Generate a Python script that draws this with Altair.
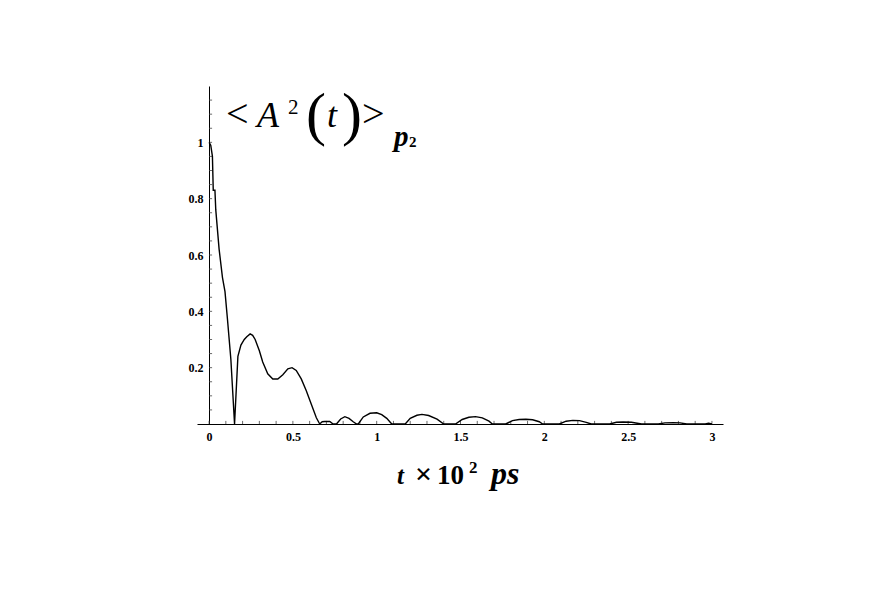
import altair as alt
import pandas as pd

# curve values
t_vals = [0, 0.01, 0.02, 0.025, 0.035, 0.04, 0.06, 0.08, 0.095, 0.11, 0.13, 0.152,
          0.172, 0.19, 0.21, 0.225, 0.245, 0.26, 0.275, 0.30, 0.32, 0.35, 0.38, 0.41,
          0.44, 0.47, 0.495, 0.52, 0.55, 0.58, 0.61, 0.64, 0.66, 0.675, 0.69, 0.72,
          0.74, 0.76, 0.785, 0.81, 0.835, 0.86, 0.88, 0.89, 0.92, 0.96, 1.0, 1.03,
          1.06, 1.09, 1.17, 1.20, 1.24, 1.27, 1.31, 1.36, 1.40, 1.47, 1.51, 1.55,
          1.59, 1.63, 1.67, 1.69, 1.77, 1.81, 1.85, 1.89, 1.93, 1.97, 1.99, 2.09,
          2.13, 2.17, 2.21, 2.25, 2.28, 2.39, 2.43, 2.47, 2.52, 2.58, 2.68, 2.72,
          2.77, 2.81, 2.85, 2.96, 2.98, 3.0]
a_vals = [1.0, 0.99, 0.95, 0.83, 0.83, 0.76, 0.62, 0.52, 0.47, 0.37, 0.23, 0.0,
          0.24, 0.28, 0.30, 0.31, 0.32, 0.315, 0.30, 0.26, 0.22, 0.178, 0.16, 0.16,
          0.175, 0.196, 0.2, 0.19, 0.16, 0.118, 0.07, 0.022, 0.0, 0.008, 0.009, 0.009,
          0.0, 0.0, 0.018, 0.026, 0.02, 0.008, 0.0, 0.0, 0.025, 0.038, 0.04, 0.033,
          0.02, 0.0, 0.0, 0.02, 0.031, 0.034, 0.03, 0.017, 0.0, 0.0, 0.016, 0.024,
          0.026, 0.022, 0.01, 0.0, 0.0, 0.012, 0.016, 0.017, 0.015, 0.008, 0.0, 0.0,
          0.01, 0.013, 0.012, 0.006, 0.0, 0.0, 0.006, 0.007, 0.006, 0.0, 0.0, 0.004,
          0.005, 0.004, 0.0, 0.0, 0.003, 0.0]

x_labels = [0, 0.5, 1, 1.5, 2, 2.5, 3]
y_labels = [0.2, 0.4, 0.6, 0.8, 1.0]
x_minor = [round(i * 0.1, 2) for i in range(0, 31)]
y_minor = [round(i * 0.05, 2) for i in range(1, 24)]

X_DOMAIN = [-0.072, 3.066]
Y_DOMAIN = [0, 1.2]
FONT = "Liberation Serif"

curve = pd.DataFrame({"t": t_vals, "A": a_vals})
xt = pd.DataFrame({"t": x_minor, "lo": [0.0] * len(x_minor), "hi": [0.011] * len(x_minor)})
yt = pd.DataFrame({"v": y_minor, "lo": [0.0] * len(y_minor), "hi": [0.018] * len(y_minor)})

xscale = alt.Scale(domain=X_DOMAIN, nice=False, zero=False)
yscale = alt.Scale(domain=Y_DOMAIN, nice=False)

line = alt.Chart(curve).mark_line(color="black", strokeWidth=1.4, interpolate="linear").encode(
    x=alt.X("t:Q", scale=xscale,
            axis=alt.Axis(values=x_labels, format="~g", title=None, ticks=False,
                          grid=False, domainColor="black", domainWidth=1,
                          labelFont=FONT, labelFontWeight="bold", labelFontSize=12,
                          labelColor="black", labelPadding=7, labelFlush=False)),
    y=alt.Y("A:Q", scale=yscale,
            axis=alt.Axis(values=y_labels, format="~g", title=None, ticks=False,
                          grid=False, domainColor="black", domainWidth=1, offset=-12,
                          labelFont=FONT, labelFontWeight="bold", labelFontSize=12,
                          labelColor="black", labelPadding=6)),
)

xticks = alt.Chart(xt).mark_rule(color="#444", strokeWidth=0.8).encode(
    x=alt.X("t:Q", scale=xscale), y=alt.Y("lo:Q", scale=yscale), y2="hi:Q")
yticks = alt.Chart(yt).mark_rule(color="#444", strokeWidth=0.8).encode(
    y=alt.Y("v:Q", scale=yscale), x=alt.X("lo:Q", scale=xscale), x2="hi:Q")

one = alt.Data(values=[{"k": 0}])


def txt(s, x, y, size, style="normal", weight="normal"):
    return alt.Chart(one).mark_text(
        text=s, font=FONT, fontSize=size, fontStyle=style, fontWeight=weight,
        align="left", baseline="alphabetic", color="black"
    ).encode(x=alt.value(x), y=alt.value(y))


labels = [
    # <A^2(t)>_{p2}
    txt("<", 29, 41, 40),
    txt("A", 60, 41, 36, "italic"),
    txt("2", 91, 28, 21),
    txt("(", 109, 48, 60),
    txt("t", 130, 41, 36, "italic"),
    txt(")", 145, 48, 60),
    txt(">", 165, 41, 40),
    txt("p", 197, 60, 29, "italic", "bold"),
    txt("2", 212, 61, 15, "normal", "bold"),
    # t x 10^2 ps
    txt("t", 200, 398, 25, "italic", "bold"),
    txt("×", 218, 398, 30, "normal", "bold"),
    txt("10", 240, 398, 27, "normal", "bold"),
    txt("2", 272, 387, 17, "normal", "bold"),
    txt("ps", 294, 398, 32, "italic", "bold"),
]

chart = alt.layer(xticks, yticks, line, *labels).properties(
    width=526, height=338,
    background="white",
    autosize=alt.AutoSizeParams(type="none"),
    padding={"left": 189, "top": 78, "right": 141, "bottom": 160},
).configure_view(strokeWidth=0, stroke="transparent")

chart.save("out.html", embed_options={"renderer": "svg", "actions": False})
